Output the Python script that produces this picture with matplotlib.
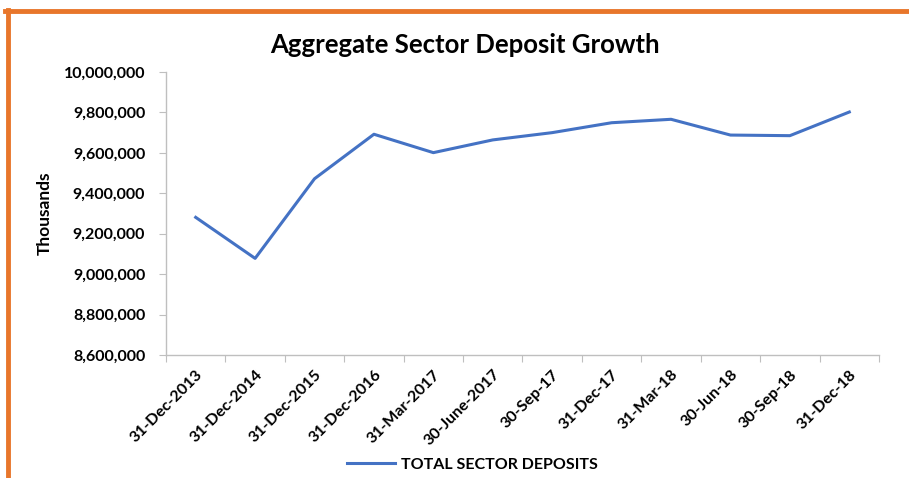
import numpy as np
import matplotlib
matplotlib.use("Agg")
import matplotlib.pyplot as plt
from matplotlib.lines import Line2D
from matplotlib.ticker import FuncFormatter

plt.rcParams['font.family'] = ['Lato', 'DejaVu Sans']

# data (thousands)
periods = ["31-Dec-2013", "31-Dec-2014", "31-Dec-2015", "31-Dec-2016",
           "31-Mar-2017", "30-June-2017", "30-Sep-17", "31-Dec-17",
           "31-Mar-18", "30-Jun-18", "30-Sep-18", "31-Dec-18"]
deposits = [9281000, 9078000, 9472000, 9692000, 9601000, 9664000,
            9700000, 9749000, 9766000, 9688000, 9685000, 9802000]
series_name = "TOTAL SECTOR DEPOSITS"

fig = plt.figure(figsize=(9.09, 4.78), dpi=100)
ax = fig.add_axes([0.1826, 0.2573, 0.967 - 0.1826, 0.8494 - 0.2573])

x = np.arange(len(periods))
ax.plot(x, deposits, color="#4472C4", linewidth=2.2, label=series_name)

ax.set_xlim(-0.5, len(periods) - 0.5)
ax.set_ylim(8600000, 10000000)
ax.set_yticks(np.arange(8600000, 10000001, 200000))
ax.yaxis.set_major_formatter(FuncFormatter(lambda v, p: f"{int(v):,}"))

# category boundaries get the tick marks, centers get the labels
ax.set_xticks(np.arange(-0.5, len(periods), 1.0))
ax.set_xticklabels([])
ax.set_xticks(x, minor=True)
ax.set_xticklabels(periods, minor=True, rotation=45, ha="right",
                   rotation_mode="anchor", fontsize=11.5, fontweight="bold")
ax.tick_params(axis="x", which="minor", length=0, pad=9)
ax.tick_params(axis="x", which="major", length=5, color="#BFBFBF", direction="out")
ax.tick_params(axis="y", length=5, color="#BFBFBF", labelsize=11.5, pad=10)
for lab in ax.get_yticklabels():
    lab.set_fontweight("bold")

for s in ["top", "right"]:
    ax.spines[s].set_visible(False)
for s in ["left", "bottom"]:
    ax.spines[s].set_color("#BFBFBF")
    ax.spines[s].set_linewidth(1.0)

ax.set_ylabel("Thousands", fontsize=12.5, fontweight="bold", labelpad=8)
fig.text(0.512, 0.905, "Aggregate Sector Deposit Growth", ha="center",
         va="center", fontsize=18.5, fontweight="bold")

leg = fig.legend(loc="center", bbox_to_anchor=(0.52, 0.028), frameon=False,
                 prop={"size": 11.5, "weight": "bold"}, handlelength=3.0,
                 handletextpad=0.4)

# orange frame on top and left
orange = "#E8762B"
fig.add_artist(Line2D([0.006, 1.0], [0.977, 0.977], transform=fig.transFigure,
                      color=orange, linewidth=3.5))
fig.add_artist(Line2D([0.009, 0.009], [0.0, 0.98], transform=fig.transFigure,
                      color=orange, linewidth=3.5))

fig.savefig("out.png", dpi=100)
